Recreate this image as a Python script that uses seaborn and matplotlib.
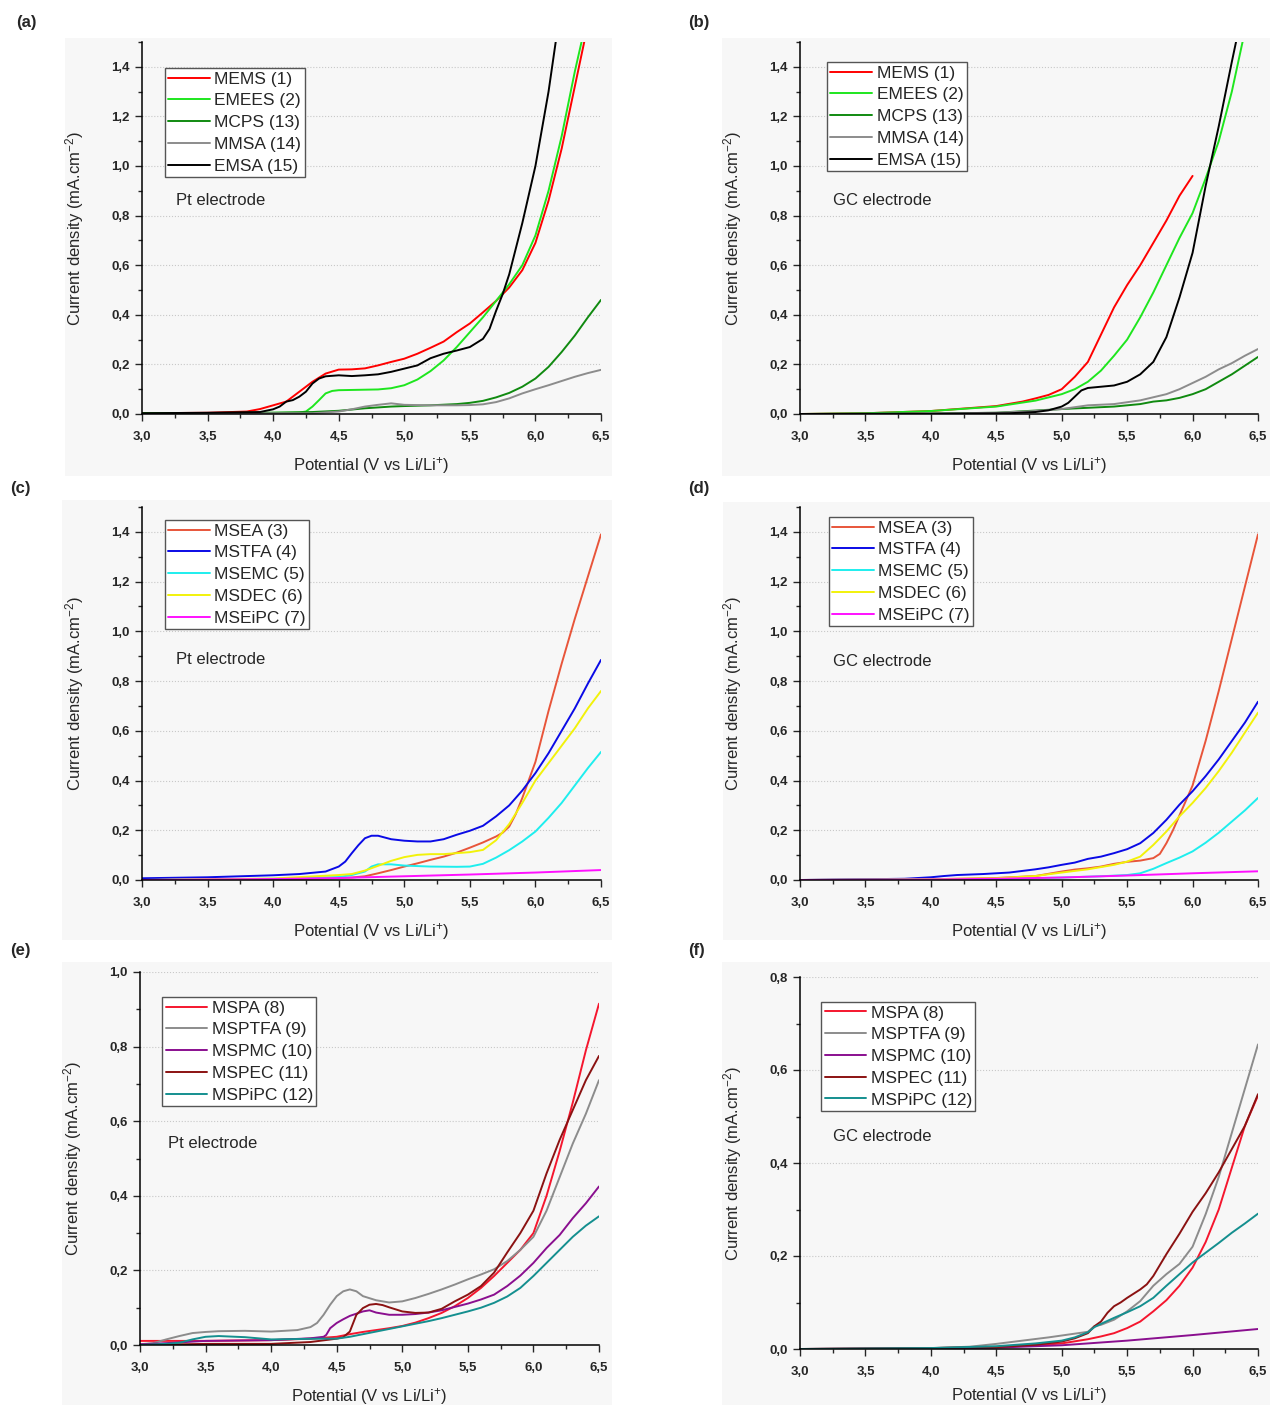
import matplotlib
matplotlib.use("Agg")
import matplotlib.pyplot as plt
import matplotlib.ticker as mticker
from matplotlib.patches import Rectangle
import seaborn as sns

sns.set_style("ticks")
plt.rcParams['font.family'] = ['Liberation Sans', 'DejaVu Sans']
plt.rcParams['mathtext.fontset'] = 'custom'
plt.rcParams['mathtext.rm'] = 'Liberation Sans'
plt.rcParams['mathtext.it'] = 'Liberation Sans:italic'

# ---- (a) Pt electrode, sulfones 1, 2, 13, 14, 15 ----
a_mems_v = [3.0, 3.5, 3.8, 3.9, 4.0, 4.1, 4.2, 4.3, 4.4, 4.5, 4.6, 4.7, 4.8, 4.9, 5.0, 5.1, 5.2, 5.3, 5.4, 5.5, 5.6, 5.7, 5.8, 5.9, 6.0, 6.1, 6.2, 6.3, 6.38]
a_mems_j = [0.003, 0.005, 0.01, 0.02, 0.035, 0.05, 0.09, 0.13, 0.163, 0.179, 0.18, 0.184, 0.196, 0.21, 0.223, 0.243, 0.267, 0.292, 0.33, 0.365, 0.41, 0.456, 0.51, 0.58, 0.69, 0.86, 1.07, 1.32, 1.52]
a_emees_v = [3.0, 3.5, 4.0, 4.2, 4.25, 4.3, 4.35, 4.4, 4.45, 4.5, 4.6, 4.8, 4.9, 5.0, 5.1, 5.2, 5.3, 5.4, 5.5, 5.6, 5.7, 5.8, 5.9, 6.0, 6.1, 6.2, 6.3, 6.36]
a_emees_j = [0.003, 0.004, 0.005, 0.006, 0.01, 0.03, 0.056, 0.083, 0.093, 0.096, 0.097, 0.099, 0.104, 0.116, 0.139, 0.173, 0.216, 0.27, 0.33, 0.39, 0.456, 0.523, 0.6, 0.72, 0.9, 1.12, 1.38, 1.52]
a_mcps_v = [3.0, 4.0, 4.3, 4.5, 4.7, 4.9, 5.0, 5.2, 5.4, 5.5, 5.6, 5.7, 5.8, 5.9, 6.0, 6.1, 6.2, 6.3, 6.4, 6.5]
a_mcps_j = [0.003, 0.005, 0.008, 0.013, 0.023, 0.03, 0.032, 0.035, 0.04, 0.045, 0.053, 0.067, 0.085, 0.11, 0.143, 0.19, 0.25, 0.316, 0.39, 0.46]
a_mmsa_v = [3.0, 4.0, 4.3, 4.5, 4.6, 4.7, 4.8, 4.9, 5.0, 5.2, 5.4, 5.5, 5.6, 5.7, 5.8, 5.9, 6.0, 6.1, 6.2, 6.3, 6.4, 6.5]
a_mmsa_j = [0.0, 0.003, 0.003, 0.01, 0.019, 0.03, 0.037, 0.043, 0.037, 0.035, 0.035, 0.036, 0.039, 0.048, 0.063, 0.083, 0.1, 0.116, 0.133, 0.15, 0.165, 0.178]
a_emsa_v = [3.0, 3.5, 3.9, 4.0, 4.05, 4.1, 4.15, 4.2, 4.25, 4.3, 4.35, 4.4, 4.5, 4.6, 4.7, 4.8, 4.9, 5.0, 5.1, 5.2, 5.3, 5.4, 5.5, 5.6, 5.65, 5.7, 5.75, 5.8, 5.9, 6.0, 6.1, 6.16]
a_emsa_j = [0.003, 0.005, 0.008, 0.019, 0.03, 0.05, 0.056, 0.07, 0.09, 0.123, 0.143, 0.152, 0.156, 0.153, 0.156, 0.16, 0.17, 0.183, 0.196, 0.225, 0.243, 0.256, 0.27, 0.303, 0.343, 0.416, 0.483, 0.563, 0.77, 1.0, 1.3, 1.52]

# ---- (b) GC electrode, sulfones 1, 2, 13, 14, 15 ----
b_mems_v = [3.0, 3.5, 4.0, 4.5, 4.7, 4.8, 4.9, 5.0, 5.1, 5.2, 5.3, 5.4, 5.5, 5.6, 5.7, 5.8, 5.9, 6.0]
b_mems_j = [0.0, 0.003, 0.012, 0.032, 0.05, 0.063, 0.077, 0.1, 0.15, 0.21, 0.32, 0.43, 0.52, 0.6, 0.69, 0.78, 0.88, 0.96]
b_emees_v = [3.0, 3.5, 4.0, 4.5, 4.8, 5.0, 5.1, 5.2, 5.3, 5.4, 5.5, 5.6, 5.7, 5.8, 5.9, 6.0, 6.1, 6.2, 6.3, 6.39]
b_emees_j = [0.0, 0.003, 0.012, 0.03, 0.054, 0.08, 0.1, 0.13, 0.175, 0.235, 0.3, 0.39, 0.49, 0.6, 0.71, 0.81, 0.95, 1.1, 1.3, 1.52]
b_mcps_v = [3.0, 4.0, 4.5, 5.0, 5.2, 5.4, 5.6, 5.7, 5.8, 5.9, 6.0, 6.1, 6.2, 6.3, 6.4, 6.5]
b_mcps_j = [0.0, 0.002, 0.005, 0.02, 0.025, 0.03, 0.04, 0.05, 0.055, 0.065, 0.08, 0.1, 0.13, 0.16, 0.195, 0.23]
b_mmsa_v = [3.0, 4.0, 4.5, 4.8, 5.0, 5.2, 5.4, 5.6, 5.8, 5.9, 6.0, 6.1, 6.2, 6.3, 6.4, 6.5]
b_mmsa_j = [0.0, 0.002, 0.005, 0.012, 0.02, 0.035, 0.04, 0.055, 0.08, 0.1, 0.125, 0.15, 0.18, 0.205, 0.235, 0.262]
b_emsa_v = [3.0, 4.0, 4.6, 4.8, 4.9, 5.0, 5.05, 5.1, 5.15, 5.2, 5.3, 5.4, 5.5, 5.6, 5.7, 5.8, 5.9, 6.0, 6.1, 6.2, 6.3, 6.34]
b_emsa_j = [0.0, 0.001, 0.003, 0.008, 0.015, 0.03, 0.045, 0.07, 0.095, 0.105, 0.11, 0.115, 0.13, 0.16, 0.21, 0.31, 0.47, 0.65, 0.92, 1.16, 1.42, 1.52]

# ---- (c) Pt electrode, sulfones 3-7 ----
c_msea_v = [3.0, 4.0, 4.5, 4.6, 4.7, 4.8, 4.9, 5.0, 5.1, 5.2, 5.3, 5.4, 5.5, 5.6, 5.7, 5.75, 5.8, 5.85, 5.9, 6.0, 6.1, 6.2, 6.3, 6.4, 6.5]
c_msea_j = [0.0, 0.003, 0.008, 0.01, 0.015, 0.027, 0.04, 0.054, 0.067, 0.081, 0.094, 0.11, 0.13, 0.151, 0.175, 0.19, 0.215, 0.265, 0.33, 0.475, 0.68, 0.87, 1.05, 1.22, 1.39]
c_mstfa_v = [3.0, 3.5, 4.0, 4.2, 4.4, 4.5, 4.55, 4.6, 4.65, 4.7, 4.75, 4.8, 4.9, 5.0, 5.1, 5.2, 5.3, 5.4, 5.5, 5.6, 5.7, 5.8, 5.9, 6.0, 6.1, 6.2, 6.3, 6.4, 6.5]
c_mstfa_j = [0.007, 0.011, 0.019, 0.024, 0.034, 0.054, 0.074, 0.108, 0.14, 0.168, 0.178, 0.178, 0.164, 0.158, 0.155, 0.155, 0.164, 0.182, 0.198, 0.218, 0.256, 0.3, 0.36, 0.43, 0.51, 0.6, 0.69, 0.79, 0.885]
c_msemc_v = [3.0, 4.0, 4.5, 4.6, 4.7, 4.75, 4.8, 4.9, 5.0, 5.2, 5.4, 5.5, 5.6, 5.7, 5.8, 5.9, 6.0, 6.1, 6.2, 6.3, 6.4, 6.5]
c_msemc_j = [0.0, 0.005, 0.012, 0.02, 0.034, 0.054, 0.063, 0.063, 0.058, 0.054, 0.053, 0.054, 0.065, 0.09, 0.12, 0.155, 0.195, 0.25, 0.31, 0.38, 0.45, 0.515]
c_msdec_v = [3.0, 4.0, 4.5, 4.6, 4.7, 4.8, 4.9, 5.0, 5.1, 5.2, 5.3, 5.4, 5.5, 5.6, 5.7, 5.8, 5.9, 6.0, 6.1, 6.2, 6.3, 6.4, 6.5]
c_msdec_j = [0.0, 0.006, 0.02, 0.024, 0.038, 0.057, 0.077, 0.092, 0.101, 0.104, 0.104, 0.108, 0.112, 0.121, 0.16, 0.225, 0.31, 0.4, 0.47, 0.54, 0.61, 0.69, 0.76]
c_mseipc_v = [3.0, 4.0, 4.5, 5.0, 5.5, 6.0, 6.5]
c_mseipc_j = [0.0, 0.004, 0.008, 0.015, 0.022, 0.03, 0.04]

# ---- (d) GC electrode, sulfones 3-7 ----
d_msea_v = [3.0, 4.0, 4.5, 4.8, 5.0, 5.1, 5.2, 5.3, 5.4, 5.5, 5.6, 5.7, 5.75, 5.8, 5.85, 5.9, 6.0, 6.1, 6.2, 6.3, 6.4, 6.5]
d_msea_j = [0.0, 0.003, 0.008, 0.016, 0.034, 0.042, 0.047, 0.054, 0.065, 0.073, 0.078, 0.088, 0.105, 0.148, 0.2, 0.26, 0.38, 0.56, 0.76, 0.97, 1.18, 1.39]
d_mstfa_v = [3.0, 3.5, 3.8, 4.0, 4.1, 4.2, 4.4, 4.6, 4.8, 4.9, 5.0, 5.1, 5.2, 5.3, 5.4, 5.5, 5.6, 5.7, 5.8, 5.9, 6.0, 6.1, 6.2, 6.3, 6.4, 6.5]
d_mstfa_j = [0.0, 0.003, 0.005, 0.011, 0.016, 0.02, 0.024, 0.03, 0.043, 0.051, 0.061, 0.07, 0.085, 0.094, 0.108, 0.124, 0.148, 0.189, 0.242, 0.303, 0.357, 0.418, 0.485, 0.559, 0.633, 0.717]
d_msemc_v = [3.0, 4.5, 5.0, 5.3, 5.5, 5.6, 5.7, 5.8, 5.9, 6.0, 6.1, 6.2, 6.3, 6.4, 6.5]
d_msemc_j = [0.0, 0.003, 0.01, 0.015, 0.02, 0.027, 0.045, 0.068, 0.09, 0.115, 0.15, 0.19, 0.235, 0.28, 0.33]
d_msdec_v = [3.0, 4.0, 4.5, 4.8, 5.0, 5.2, 5.4, 5.5, 5.6, 5.7, 5.8, 5.9, 6.0, 6.1, 6.2, 6.3, 6.4, 6.5]
d_msdec_j = [0.0, 0.003, 0.007, 0.016, 0.03, 0.043, 0.061, 0.074, 0.094, 0.141, 0.195, 0.256, 0.31, 0.37, 0.438, 0.512, 0.593, 0.673]
d_mseipc_v = [3.0, 4.0, 4.5, 5.0, 5.5, 6.0, 6.5]
d_mseipc_j = [0.0, 0.002, 0.005, 0.01, 0.018, 0.027, 0.035]

# ---- (e) Pt electrode, sulfones 8-12 ----
e_mspa_v = [3.0, 3.2, 3.5, 4.0, 4.3, 4.5, 4.6, 4.7, 4.8, 4.9, 5.0, 5.1, 5.2, 5.3, 5.4, 5.5, 5.6, 5.7, 5.8, 5.9, 6.0, 6.1, 6.2, 6.3, 6.4, 6.5]
e_mspa_j = [0.011, 0.011, 0.011, 0.013, 0.017, 0.022, 0.029, 0.035, 0.04, 0.045, 0.051, 0.06, 0.072, 0.086, 0.104, 0.126, 0.153, 0.185, 0.22, 0.255, 0.3, 0.4, 0.52, 0.65, 0.79, 0.915]
e_msptfa_v = [3.0, 3.1, 3.2, 3.3, 3.4, 3.5, 3.6, 3.8, 4.0, 4.2, 4.3, 4.35, 4.4, 4.45, 4.5, 4.55, 4.6, 4.65, 4.7, 4.8, 4.9, 5.0, 5.1, 5.2, 5.3, 5.4, 5.5, 5.6, 5.7, 5.8, 5.9, 6.0, 6.1, 6.2, 6.3, 6.4, 6.5]
e_msptfa_j = [0.002, 0.005, 0.015, 0.024, 0.032, 0.035, 0.037, 0.038, 0.036, 0.04, 0.048, 0.059, 0.081, 0.108, 0.131, 0.144, 0.149, 0.144, 0.131, 0.12, 0.114, 0.117, 0.126, 0.137, 0.149, 0.162, 0.176, 0.189, 0.203, 0.225, 0.255, 0.29, 0.36, 0.45, 0.54, 0.62, 0.71]
e_mspmc_v = [3.0, 3.2, 3.5, 4.0, 4.3, 4.4, 4.42, 4.45, 4.5, 4.55, 4.6, 4.7, 4.75, 4.8, 4.9, 5.0, 5.1, 5.2, 5.3, 5.4, 5.5, 5.6, 5.7, 5.8, 5.9, 6.0, 6.1, 6.2, 6.3, 6.4, 6.5]
e_mspmc_j = [0.002, 0.005, 0.011, 0.013, 0.018, 0.022, 0.027, 0.045, 0.059, 0.069, 0.078, 0.09, 0.093, 0.087, 0.081, 0.081, 0.083, 0.087, 0.093, 0.102, 0.111, 0.122, 0.135, 0.158, 0.186, 0.22, 0.26, 0.295, 0.34, 0.38, 0.425]
e_mspec_v = [3.0, 3.5, 4.0, 4.3, 4.5, 4.55, 4.6, 4.65, 4.7, 4.75, 4.8, 4.85, 4.9, 5.0, 5.1, 5.2, 5.3, 5.4, 5.5, 5.6, 5.7, 5.8, 5.9, 6.0, 6.1, 6.2, 6.3, 6.4, 6.5]
e_mspec_j = [0.0, 0.003, 0.003, 0.008, 0.017, 0.021, 0.036, 0.081, 0.099, 0.108, 0.11, 0.107, 0.101, 0.09, 0.086, 0.087, 0.097, 0.117, 0.135, 0.158, 0.194, 0.248, 0.3, 0.36, 0.46, 0.55, 0.63, 0.71, 0.775]
e_mspipc_v = [3.0, 3.2, 3.3, 3.4, 3.5, 3.6, 3.8, 4.0, 4.2, 4.4, 4.5, 4.6, 4.7, 4.8, 4.9, 5.0, 5.1, 5.2, 5.3, 5.4, 5.5, 5.6, 5.7, 5.8, 5.9, 6.0, 6.1, 6.2, 6.3, 6.4, 6.5]
e_mspipc_j = [0.0, 0.003, 0.006, 0.015, 0.022, 0.024, 0.021, 0.015, 0.016, 0.017, 0.017, 0.022, 0.029, 0.036, 0.043, 0.05, 0.057, 0.064, 0.072, 0.081, 0.09, 0.1, 0.113, 0.13, 0.153, 0.185, 0.22, 0.255, 0.29, 0.32, 0.345]

# ---- (f) GC electrode, sulfones 8-12 ----
f_mspa_v = [3.0, 4.0, 4.5, 4.8, 5.0, 5.2, 5.3, 5.4, 5.5, 5.6, 5.7, 5.8, 5.9, 6.0, 6.1, 6.2, 6.3, 6.4, 6.5]
f_mspa_j = [0.0, 0.002, 0.004, 0.008, 0.012, 0.021, 0.027, 0.034, 0.045, 0.059, 0.081, 0.105, 0.136, 0.175, 0.23, 0.3, 0.39, 0.48, 0.545]
f_msptfa_v = [3.0, 4.0, 4.3, 4.5, 4.7, 4.9, 5.0, 5.1, 5.2, 5.25, 5.3, 5.4, 5.5, 5.6, 5.7, 5.8, 5.9, 6.0, 6.1, 6.2, 6.3, 6.4, 6.5]
f_msptfa_j = [0.0, 0.002, 0.005, 0.011, 0.018, 0.025, 0.029, 0.033, 0.037, 0.049, 0.052, 0.063, 0.081, 0.103, 0.136, 0.161, 0.183, 0.22, 0.29, 0.37, 0.465, 0.56, 0.655]
f_mspmc_v = [3.0, 4.0, 4.5, 5.0, 5.5, 6.0, 6.5]
f_mspmc_j = [0.0, 0.001, 0.003, 0.008, 0.018, 0.03, 0.043]
f_mspec_v = [3.0, 4.0, 4.5, 4.8, 5.0, 5.1, 5.2, 5.25, 5.3, 5.35, 5.4, 5.45, 5.5, 5.6, 5.65, 5.7, 5.8, 5.9, 6.0, 6.1, 6.2, 6.3, 6.4, 6.5]
f_mspec_j = [0.0, 0.002, 0.004, 0.009, 0.016, 0.023, 0.034, 0.049, 0.059, 0.078, 0.092, 0.1, 0.11, 0.128, 0.139, 0.157, 0.204, 0.248, 0.295, 0.335, 0.38, 0.43, 0.48, 0.548]
f_mspipc_v = [3.0, 4.0, 4.5, 4.8, 5.0, 5.1, 5.2, 5.25, 5.3, 5.4, 5.5, 5.6, 5.7, 5.8, 5.9, 6.0, 6.1, 6.2, 6.3, 6.4, 6.5]
f_mspipc_j = [0.0, 0.002, 0.006, 0.012, 0.018, 0.025, 0.036, 0.047, 0.054, 0.067, 0.079, 0.092, 0.11, 0.136, 0.161, 0.186, 0.207, 0.228, 0.25, 0.27, 0.291]

# colours
c_red, c_lime, c_dgreen, c_grey, c_black = '#ff0000', '#1ee61e', '#108a10', '#8c8c8c', '#000000'
c_tomato, c_blue, c_cyan, c_yellow, c_magenta = '#e8553a', '#0a0ae6', '#1eeeee', '#f2f20a', '#ff10ff'
c_crimson, c_purple, c_maroon, c_teal = '#f5162e', '#8a0f8f', '#8b1212', '#148f8f'

group1 = ['MEMS (1)', 'EMEES (2)', 'MCPS (13)', 'MMSA (14)', 'EMSA (15)']
group2 = ['MSEA (3)', 'MSTFA (4)', 'MSEMC (5)', 'MSDEC (6)', 'MSEiPC (7)']
group3 = ['MSPA (8)', 'MSPTFA (9)', 'MSPMC (10)', 'MSPEC (11)', 'MSPiPC (12)']

W, H = 1270, 1408
panels = [
    dict(tag='(a)', tag_xy=(16, 22), rect=(142, 42, 601, 414), bg=(65, 38, 612, 476), ymax=1.5,
         text='Pt electrode', text_xy=(3.26, 0.86), leg=(0.05, 0.93), xlab_y=-0.11,
         series=[(group1[0], a_mems_v, a_mems_j, c_red), (group1[1], a_emees_v, a_emees_j, c_lime),
                 (group1[2], a_mcps_v, a_mcps_j, c_dgreen), (group1[3], a_mmsa_v, a_mmsa_j, c_grey),
                 (group1[4], a_emsa_v, a_emsa_j, c_black)]),
    dict(tag='(b)', tag_xy=(688, 22), rect=(800, 42, 1258, 414), bg=(722, 38, 1270, 476), ymax=1.5,
         text='GC electrode', text_xy=(3.25, 0.86), leg=(0.059, 0.946), xlab_y=-0.11,
         series=[(group1[0], b_mems_v, b_mems_j, c_red), (group1[1], b_emees_v, b_emees_j, c_lime),
                 (group1[2], b_mcps_v, b_mcps_j, c_dgreen), (group1[3], b_mmsa_v, b_mmsa_j, c_grey),
                 (group1[4], b_emsa_v, b_emsa_j, c_black)]),
    dict(tag='(c)', tag_xy=(10, 488), rect=(142, 507, 601, 880), bg=(62, 500, 612, 940), ymax=1.5,
         text='Pt electrode', text_xy=(3.26, 0.885), leg=(0.05, 0.965), xlab_y=-0.11,
         series=[(group2[0], c_msea_v, c_msea_j, c_tomato), (group2[1], c_mstfa_v, c_mstfa_j, c_blue),
                 (group2[2], c_msemc_v, c_msemc_j, c_cyan), (group2[3], c_msdec_v, c_msdec_j, c_yellow),
                 (group2[4], c_mseipc_v, c_mseipc_j, c_magenta)]),
    dict(tag='(d)', tag_xy=(688, 488), rect=(800, 507, 1258, 880), bg=(723, 502, 1270, 940), ymax=1.5,
         text='GC electrode', text_xy=(3.25, 0.88), leg=(0.063, 0.973), xlab_y=-0.11,
         series=[(group2[0], d_msea_v, d_msea_j, c_tomato), (group2[1], d_mstfa_v, d_mstfa_j, c_blue),
                 (group2[2], d_msemc_v, d_msemc_j, c_cyan), (group2[3], d_msdec_v, d_msdec_j, c_yellow),
                 (group2[4], d_mseipc_v, d_mseipc_j, c_magenta)]),
    dict(tag='(e)', tag_xy=(10, 951), rect=(140, 972, 599, 1345), bg=(62, 962, 612, 1408), ymax=1.0,
         text='Pt electrode', text_xy=(3.21, 0.54), leg=(0.048, 0.933), xlab_y=-0.11,
         series=[(group3[0], e_mspa_v, e_mspa_j, c_crimson), (group3[1], e_msptfa_v, e_msptfa_j, c_grey),
                 (group3[2], e_mspmc_v, e_mspmc_j, c_purple), (group3[3], e_mspec_v, e_mspec_j, c_maroon),
                 (group3[4], e_mspipc_v, e_mspipc_j, c_teal)]),
    dict(tag='(f)', tag_xy=(688, 951), rect=(800, 977, 1258, 1349), bg=(722, 962, 1270, 1408), ymax=0.8,
         text='GC electrode', text_xy=(3.25, 0.458), leg=(0.046, 0.933), xlab_y=-0.097,
         series=[(group3[0], f_mspa_v, f_mspa_j, c_crimson), (group3[1], f_msptfa_v, f_msptfa_j, c_grey),
                 (group3[2], f_mspmc_v, f_mspmc_j, c_purple), (group3[3], f_mspec_v, f_mspec_j, c_maroon),
                 (group3[4], f_mspipc_v, f_mspipc_j, c_teal)]),
]

comma = mticker.FuncFormatter(lambda v, p: f"{v:.1f}".replace('.', ','))

fig = plt.figure(figsize=(W / 100, H / 100), dpi=100)
fig.patch.set_facecolor('white')

# background layer for the faint grey panel frames
bg_ax = fig.add_axes([0, 0, 1, 1], zorder=-10)
bg_ax.set_xlim(0, W)
bg_ax.set_ylim(H, 0)
bg_ax.axis('off')

for p in panels:
    x0, y0, x1, y1 = p['bg']
    bg_ax.add_patch(Rectangle((x0, y0), x1 - x0, min(y1, H - 3) - y0, facecolor='#f7f7f7', edgecolor='none'))

    l, t, r, b = p['rect']
    ax = fig.add_axes([l / W, 1 - b / H, (r - l) / W, (b - t) / H])
    ax.set_facecolor('none')

    for name, v, j, col in p['series']:
        sns.lineplot(x=v, y=j, ax=ax, color=col, linewidth=1.4, label=name, sort=False, estimator=None)

    ax.set_xlim(3.0, 6.5)
    ax.set_ylim(0, p['ymax'])
    ax.xaxis.set_major_locator(mticker.MultipleLocator(0.5))
    ax.xaxis.set_minor_locator(mticker.MultipleLocator(0.25))
    ax.yaxis.set_major_locator(mticker.MultipleLocator(0.2))
    ax.yaxis.set_minor_locator(mticker.MultipleLocator(0.1))
    ax.xaxis.set_major_formatter(comma)
    ax.yaxis.set_major_formatter(comma)
    ax.tick_params(which='major', direction='out', length=5, width=1.0, labelsize=9.5, pad=4)
    ax.tick_params(axis='x', which='major', pad=7)
    ax.tick_params(which='minor', direction='out', length=3, width=1.0)
    for lab in ax.get_xticklabels() + ax.get_yticklabels():
        lab.set_fontweight('bold')
    ax.yaxis.grid(True, which='major', linestyle=':', color='#c8c8c8', linewidth=0.8)
    ax.xaxis.grid(False)
    sns.despine(ax=ax)
    for s in ('left', 'bottom'):
        ax.spines[s].set_linewidth(1.1)
        ax.spines[s].set_color('black')

    ax.set_xlabel(r'Potential (V vs Li/Li$^{+}$)', fontsize=12)
    ax.set_ylabel(r'Current density (mA.cm$^{-2}$)', fontsize=12)
    ax.xaxis.set_label_coords(0.5, p['xlab_y'])
    ax.yaxis.set_label_coords(-0.122, 0.5)

    ax.text(p['text_xy'][0], p['text_xy'][1], p['text'], fontsize=12, va='center', ha='left')

    leg = ax.legend(loc='upper left', bbox_to_anchor=p['leg'], fontsize=12.5, frameon=True, fancybox=False,
                    handlelength=2.4, handletextpad=0.25, borderpad=0.2, labelspacing=0.38,
                    borderaxespad=0.0)
    leg.get_frame().set_edgecolor('#555555')
    leg.get_frame().set_linewidth(1.0)
    leg.get_frame().set_facecolor('white')
    leg.get_frame().set_alpha(1.0)

    fig.text(p['tag_xy'][0] / W, 1 - p['tag_xy'][1] / H, p['tag'], fontsize=12, fontweight='bold',
             va='center', ha='left')

fig.savefig('out.png', dpi=100)
